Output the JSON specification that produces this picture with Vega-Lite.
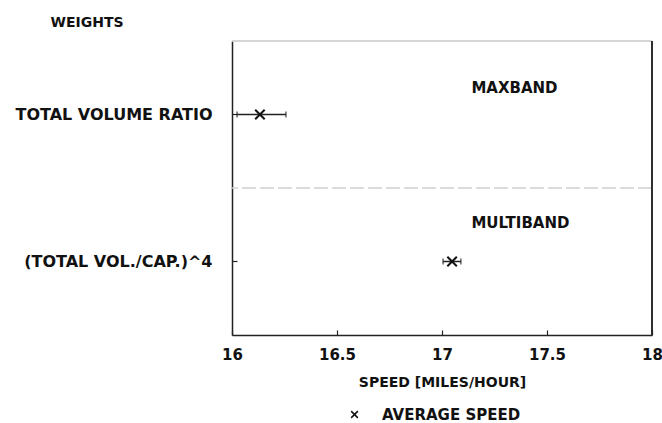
{
  "$schema": "https://vega.github.io/schema/vega-lite/v6.json",
  "width": 420,
  "height": 294,
  "autosize": {"type": "none"},
  "padding": {"left": 232, "top": 41, "right": 10, "bottom": 88},
  "background": "white",
  "config": {
    "view": {"stroke": null},
    "font": "DejaVu Sans",
    "axis": {"labelFont": "DejaVu Sans", "titleFont": "DejaVu Sans", "labelColor": "#111", "titleColor": "#111", "labelFontWeight": "bold", "titleFontWeight": "bold", "domainColor": "#222", "tickColor": "#222", "grid": false}
  },
  "data": {
    "values": [
      {"weight": "TOTAL VOLUME RATIO", "method": "MAXBAND", "stat": "AVERAGE SPEED", "mean": 16.133, "lo": 16.024, "hi": 16.257},
      {"weight": "(TOTAL VOL./CAP.)^4", "method": "MULTIBAND", "stat": "AVERAGE SPEED", "mean": 17.048, "lo": 17.005, "hi": 17.09}
    ]
  },
  "layer": [
    {
      "mark": {"type": "rule", "color": "#c8c8c8", "strokeWidth": 1},
      "encoding": {
        "y": {
          "datum": "TOTAL VOLUME RATIO", "bandPosition": 0, "type": "nominal",
          "scale": {"type": "band", "domain": ["TOTAL VOLUME RATIO", "(TOTAL VOL./CAP.)^4"], "paddingInner": 0, "paddingOuter": 0},
          "axis": {
            "title": "WEIGHTS", "titleAngle": 0, "titleAlign": "left", "titleBaseline": "alphabetic",
            "titleX": -182, "titleY": -15, "titleFontSize": 14,
            "labelFontSize": 16, "labelPadding": 25, "labelLimit": 400, "tickSize": -5, "domainWidth": 1.5, "tickWidth": 1.2
          }
        }
      }
    },
    {
      "mark": {"type": "rule", "color": "#cfcfcf", "strokeWidth": 1, "strokeDash": [14, 4]},
      "encoding": {"y": {"datum": "(TOTAL VOL./CAP.)^4", "type": "nominal", "bandPosition": 0}}
    },
    {
      "mark": {"type": "rule", "color": "#222", "strokeWidth": 1.5},
      "encoding": {"x": {"datum": 18, "type": "quantitative"}}
    },
    {
      "mark": {"type": "rule", "color": "#222", "strokeWidth": 1.5},
      "encoding": {
        "x": {
          "field": "lo", "type": "quantitative",
          "scale": {"domain": [16, 18], "nice": false, "zero": false},
          "axis": {
            "title": "SPEED [MILES/HOUR]", "values": [16, 16.5, 17, 17.5, 18], "format": "~g", "labelFlush": false,
            "labelFontSize": 15, "labelPadding": 17, "tickSize": -5, "domainWidth": 1.5, "tickWidth": 1.2,
            "titleFontSize": 14, "titleBaseline": "alphabetic", "titleY": 51
          }
        },
        "x2": {"field": "hi"},
        "y": {"field": "weight", "type": "nominal"}
      }
    },
    {
      "mark": {"type": "tick", "orient": "vertical", "color": "#222", "size": 6, "thickness": 1.5},
      "encoding": {"x": {"field": "lo", "type": "quantitative"}, "y": {"field": "weight", "type": "nominal"}}
    },
    {
      "mark": {"type": "tick", "orient": "vertical", "color": "#222", "size": 6, "thickness": 1.5},
      "encoding": {"x": {"field": "hi", "type": "quantitative"}, "y": {"field": "weight", "type": "nominal"}}
    },
    {
      "mark": {"type": "point", "filled": false, "strokeWidth": 2, "opacity": 1},
      "encoding": {
        "x": {"field": "mean", "type": "quantitative"},
        "y": {"field": "weight", "type": "nominal"},
        "shape": {
          "field": "stat", "type": "nominal",
          "scale": {"range": ["M-1,-1L1,1M1,-1L-1,1"]},
          "legend": {
            "title": null, "orient": "none", "legendX": 115, "legendY": 366,
            "labelFont": "DejaVu Sans", "labelFontWeight": "bold", "labelFontSize": 15, "labelColor": "#111",
            "labelOffset": 20, "symbolSize": 45, "symbolStrokeWidth": 1.5, "symbolStrokeColor": "#111", "symbolType": "M-1,-1L1,1M1,-1L-1,1"
          }
        },
        "color": {"value": "#111"},
        "size": {"value": 90}
      }
    },
    {
      "transform": [{"filter": "datum.method == 'MAXBAND'"}],
      "mark": {"type": "text", "align": "left", "baseline": "middle", "font": "DejaVu Sans", "fontWeight": "bold", "fontSize": 15, "color": "#111"},
      "encoding": {
        "x": {"datum": 17.14, "type": "quantitative"},
        "y": {"field": "weight", "type": "nominal", "bandPosition": 0.32},
        "text": {"field": "method"}
      }
    },
    {
      "transform": [{"filter": "datum.method == 'MULTIBAND'"}],
      "mark": {"type": "text", "align": "left", "baseline": "middle", "font": "DejaVu Sans", "fontWeight": "bold", "fontSize": 15, "color": "#111"},
      "encoding": {
        "x": {"datum": 17.14, "type": "quantitative"},
        "y": {"field": "weight", "type": "nominal", "bandPosition": 0.24},
        "text": {"field": "method"}
      }
    }
  ]
}
